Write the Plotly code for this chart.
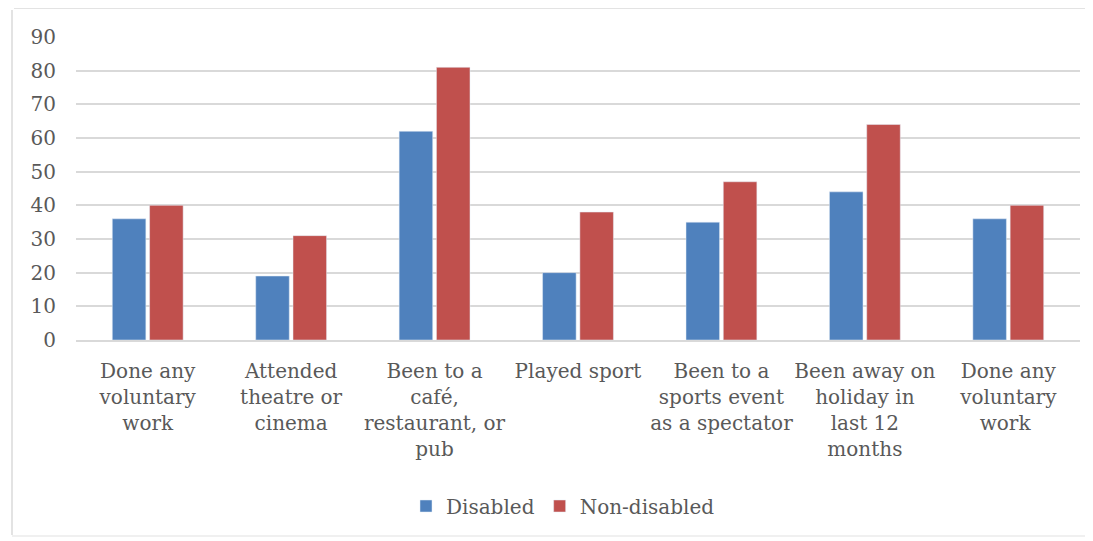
import plotly.graph_objects as go

categories = [
    "Done any<br>voluntary<br>work",
    "Attended<br>theatre or<br>cinema",
    "Been to a<br>café,<br>restaurant, or<br>pub",
    "Played sport",
    "Been to a<br>sports event<br>as a spectator",
    "Been away on<br>holiday in<br>last 12<br>months",
    "Done any<br>voluntary<br>work ",
]
disabled = [36, 19, 62, 20, 35, 44, 36]
non_disabled = [40, 31, 81, 38, 47, 64, 40]
y_ticks = [0, 10, 20, 30, 40, 50, 60, 70, 80, 90]

FONT = "DejaVu Serif"
TEXT = "#595959"

fig = go.Figure()
fig.add_trace(go.Bar(x=categories, y=disabled, name="Disabled", marker_color="#4F81BD"))
fig.add_trace(go.Bar(x=categories, y=non_disabled, name="Non-disabled", marker_color="#C0504D"))

W, H = 1085, 533
fig.update_layout(
    width=W, height=H,
    margin=dict(l=68, r=13, t=29, b=201, autoexpand=False),
    paper_bgcolor="white", plot_bgcolor="white",
    barmode="group", bargap=0.48, bargroupgap=0.1,
    font=dict(family=FONT, size=20, color=TEXT),
    showlegend=True,
    legend=dict(orientation="h", x=0.5 - 15 / 1004, xanchor="center", xref="paper",
                y=1 - 498 / H, yref="container", yanchor="middle",
                font=dict(family=FONT, size=20, color=TEXT), itemwidth=30, traceorder="normal"),
    xaxis=dict(type="category", tickfont=dict(family=FONT, size=20, color=TEXT), tickangle=0,
               showgrid=False, showline=True, linecolor="#D9D9D9", linewidth=1.5, ticks="",
               ticklabelstandoff=12, automargin=False),
    yaxis=dict(range=[0, 90], tickvals=y_ticks, showgrid=True, gridcolor="#D9D9D9", gridwidth=1.5,
               zeroline=False, showline=False, ticks="", ticklabelstandoff=19, automargin=False,
               tickfont=dict(family=FONT, size=20, color=TEXT)),
)
border = dict(color="#E3E3E3", width=2)
fig.add_shape(type="line", xref="paper", yref="paper",
              x0=-64 / 1004, x1=-64 / 1004, y0=-195 / 303, y1=1 + 27 / 303, line=border)
fig.add_shape(type="line", xref="paper", yref="paper",
              x0=-62 / 1004, x1=1017 / 1004, y0=1 + 29 / 303, y1=1 + 29 / 303, line=border)
fig.add_shape(type="line", xref="paper", yref="paper",
              x0=-64 / 1004, x1=1017 / 1004, y0=-196 / 303, y1=-196 / 303,
              line=dict(color="#F0F0F0", width=2))
fig.write_html("out.html")
